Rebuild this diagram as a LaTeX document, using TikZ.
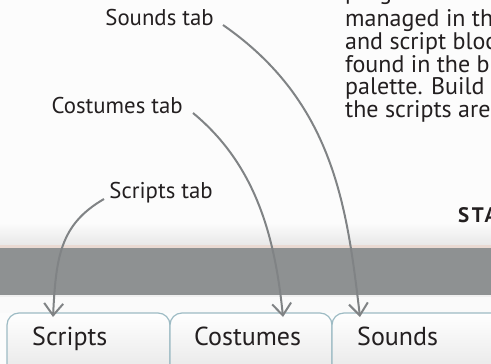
\documentclass[tikz,border=0pt]{standalone}
\usepackage{fontspec}
\setmainfont{PT Sans}
\usetikzlibrary{arrows.meta,calc}
\definecolor{arrowgray}{HTML}{808385}
\definecolor{bargray}{HTML}{8E9192}
\definecolor{tabborder}{HTML}{9DBBC4}
\definecolor{textdark}{HTML}{231F20}
\definecolor{barline}{HTML}{E9D9D2}
\tikzset{
  lbl/.style={font=\fontsize{22.8}{24}\selectfont, text=textdark, inner sep=0pt, anchor=base east},
  bodytext/.style={font=\fontsize{24}{23}\selectfont, text=textdark, inner sep=0pt, anchor=base west},
  tabtext/.style={font=\fontsize{26}{28}\selectfont, text=textdark, inner sep=0pt, anchor=base west},
  pointer/.style={draw=arrowgray, line width=2pt, -{Straight Barb[length=12pt,width=19pt]}},
  tabshape/.style={draw=tabborder, line width=1.2pt, top color=white, bottom color=black!9}
}
\begin{document}
\begin{tikzpicture}[x=1pt,y=-1pt]
\useasboundingbox (0,0) rectangle (491,364);
\clip (0,0) rectangle (491,364);
\fill[black!1] (0,0) rectangle (491,364);
% header band
\shade[top color=black!1, bottom color=black!9] (0,222) rectangle (491,245);
\fill[barline] (0,245) rectangle (491,247.5);
\fill[bargray] (0,247.5) rectangle (491,295);
\fill[black!6] (0,295) rectangle (491,297);
\fill[black!2] (0,297) rectangle (491,313);
% tabs
\path[tabshape] (7,372) -- (7,325) arc[start angle=180,end angle=90,radius=12pt] -- (158,313) arc[start angle=90,end angle=0,radius=12pt] -- (170,372);
\path[tabshape] (170,372) -- (170,325) arc[start angle=180,end angle=90,radius=12pt] -- (320,313) arc[start angle=90,end angle=0,radius=12pt] -- (332,372);
\path[tabshape] (332,372) -- (332,325) arc[start angle=180,end angle=90,radius=12pt] -- (498,313) -- (498,372);
\node[tabtext] (tscr) at (32,345) {Scripts};
\node[tabtext] (tcos) at (194,345) {Costumes};
\node[tabtext] (tsnd) at (357,345) {Sounds};
% body text
\node[bodytext] (l0) at (345,-0.5) {programs};
\node[bodytext] (l1) at (345,27) {managed in th};
\node[bodytext] (l2) at (345,49.5) {and script bloc};
\node[bodytext] (l3) at (345,72) {found in the b};
\node[bodytext] (l4) at (345,94.5) {palette. Build s};
\node[bodytext] (l5) at (345,117) {the scripts are};
\node[font=\fontsize{21}{24}\selectfont\bfseries\addfontfeatures{LetterSpace=12}, text=textdark, inner sep=0pt, anchor=base west] (sta) at (458,222) {STA};
% labels
\node[lbl] (lsnd) at (214,25) {Sounds tab};
\node[lbl] (lcos) at (183,113) {Costumes tab};
\node[lbl] (lscr) at (213,198) {Scripts tab};
% connector ends
\coordinate (s1) at (223,25);
\coordinate (e1) at (360,317);
\coordinate (s2) at (193,113);
\coordinate (e2) at (283,317);
\coordinate (s3) at (104,199);
\coordinate (e3) at (53,317);
\draw[pointer] (s1) .. controls (334,102) and (347,207) .. (e1);
\draw[pointer] (s2) .. controls (256,165) and (275,237) .. (e2);
\draw[pointer] (s3) .. controls (60,224.5) and (56,257) .. (e3);
\end{tikzpicture}
\end{document}
